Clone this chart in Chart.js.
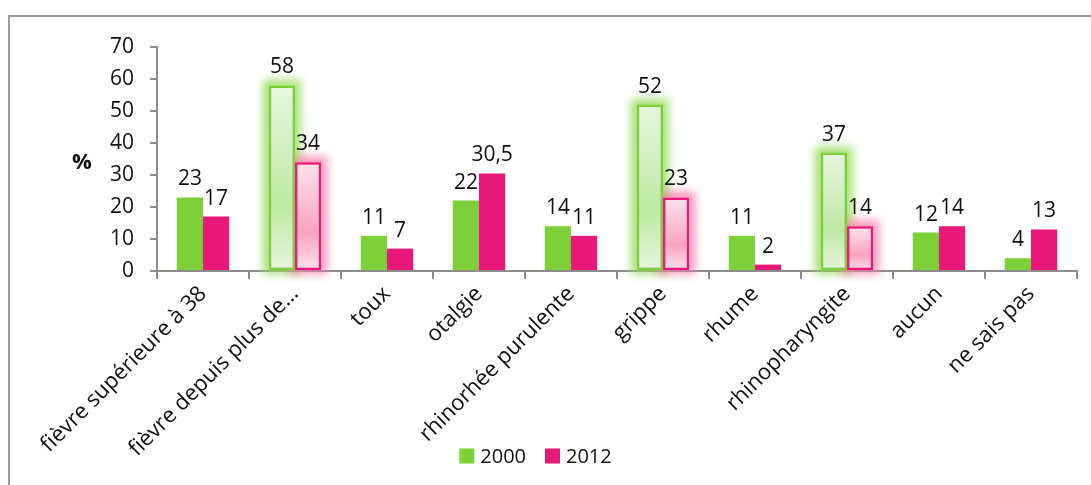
<!DOCTYPE html>
<html lang="fr">
<head>
<meta charset="utf-8">
<title>Symptômes — 2000 / 2012</title>
<script src="https://cdn.jsdelivr.net/npm/chart.js@4/dist/chart.umd.min.js"></script>
<style>
  html, body { margin: 0; padding: 0; background: #ffffff; overflow: hidden; }
  #frame {
    position: absolute; left: 8px; top: 15px;
    width: 1110px; height: 500px;
    border: 2px solid #9b9b9b;
    background: #ffffff;
  }
  #wrap { position: absolute; left: 0; top: 0; width: 1081px; height: 468px; }
</style>
</head>
<body>
<div id="frame"><div id="wrap"><canvas id="chart" width="1081" height="468"></canvas></div></div>
<script>
// Categories and the two survey years
const categories = [
  'fièvre supérieure à 38',
  'fièvre depuis plus de…',
  'toux',
  'otalgie',
  'rhinorhée purulente',
  'grippe',
  'rhume',
  'rhinopharyngite',
  'aucun',
  'ne sais pas'
];
const seriesNames = ['2000', '2012'];
const values2000 = [23, 58, 11, 22, 14, 52, 11, 37, 12, 4];
const values2012 = [17, 34, 7, 30.5, 11, 23, 2, 14, 14, 13];
// Categories drawn with the highlighted (glowing, gradient) style
const emphasised = ['fièvre depuis plus de…', 'grippe', 'rhinopharyngite'];
// Value axis
const yMin = 0, yMax = 70, yStep = 10;

const GREEN = '#7ed03a';
const PINK = '#e8177a';
const palette = {
  [GREEN]: { light: '#e8f6e0', mid: '#bde9a4', glow: 'rgba(150, 220, 90, 0.8)' },
  [PINK]:  { light: '#fde4ec', mid: '#f9a3bf', glow: 'rgba(245, 120, 170, 0.75)' }
};

const isEmph = i => emphasised.includes(categories[i]);

function fillFor(color) {
  return function (ctx) {
    const i = ctx.dataIndex;
    if (!isEmph(i)) return color;
    const chart = ctx.chart;
    const y = chart.scales.y;
    if (!y || !chart.chartArea) return palette[color].mid;
    const top = y.getPixelForValue(ctx.raw);
    const base = y.getPixelForValue(0);
    const g = chart.ctx.createLinearGradient(0, top, 0, base);
    g.addColorStop(0, palette[color].light);
    g.addColorStop(0.65, palette[color].mid);
    g.addColorStop(1, palette[color].light);
    return g;
  };
}

// Soft halo behind highlighted bars
const glowPlugin = {
  id: 'glow',
  beforeDatasetsDraw(chart) {
    const c = chart.ctx;
    chart.data.datasets.forEach((ds, di) => {
      const meta = chart.getDatasetMeta(di);
      const glow = palette[ds.baseColor].glow;
      meta.data.forEach((bar, i) => {
        if (!isEmph(i)) return;
        const p = bar.getProps(['x', 'y', 'base', 'width'], true);
        c.save();
        c.filter = 'blur(4px)';
        c.fillStyle = glow;
        c.fillRect(p.x - p.width / 2 - 6, p.y - 6, p.width + 12, p.base - p.y + 10);
        c.restore();
      });
    });
  }
};

// Value labels above each bar
const valueLabels = {
  id: 'valueLabels',
  afterDatasetsDraw(chart) {
    const c = chart.ctx;
    c.save();
    c.font = '21px "Open Sans", sans-serif';
    c.fillStyle = '#111111';
    c.textAlign = 'center';
    c.textBaseline = 'alphabetic';
    chart.data.datasets.forEach((ds, di) => {
      chart.getDatasetMeta(di).data.forEach((bar, i) => {
        const txt = String(ds.data[i]).replace('.', ',');
        c.fillText(txt, bar.x, bar.y - 12);
      });
    });
    c.restore();
  }
};

// "%" caption to the left of the value axis
const unitCaption = {
  id: 'unitCaption',
  afterDraw(chart) {
    const a = chart.chartArea;
    const c = chart.ctx;
    c.save();
    c.font = 'bold 22px "Open Sans", sans-serif';
    c.fillStyle = '#111111';
    c.textAlign = 'center';
    c.textBaseline = 'middle';
    c.fillText('%', a.left - 75, (a.top + a.bottom) / 2 + 4);
    c.restore();
  }
};

// Series key, laid out beside the lower ends of the slanted category labels
const seriesKey = {
  id: 'seriesKey',
  afterDraw(chart) {
    const c = chart.ctx;
    const box = 15, gap = 6, spacing = 19;
    c.save();
    c.font = '20px "Open Sans", sans-serif';
    c.textBaseline = 'middle';
    c.textAlign = 'left';
    const items = chart.data.datasets.map(ds => ({ text: ds.label, color: ds.baseColor, w: c.measureText(ds.label).width }));
    const total = items.reduce((s, it) => s + box + gap + it.w, 0) + spacing * (items.length - 1);
    let x = chart.chartArea.right / 2 - total / 2 - 8;
    const yMid = chart.chartArea.bottom + 185;
    items.forEach(it => {
      c.fillStyle = it.color;
      c.fillRect(x, yMid - box / 2, box, box);
      c.fillStyle = '#111111';
      c.fillText(it.text, x + box + gap, yMid + 1);
      x += box + gap + it.w + spacing;
    });
    c.restore();
  }
};

Chart.defaults.font.family = '"Open Sans", sans-serif';
Chart.defaults.color = '#111111';

function dataset(label, values, color) {
  return {
    label: label,
    data: values,
    baseColor: color,
    backgroundColor: fillFor(color),
    borderColor: color,
    borderWidth: values.map((v, i) => isEmph(i) ? 2.5 : 0),
    borderSkipped: false,
    categoryPercentage: 0.57,
    barPercentage: 1.0
  };
}

new Chart(document.getElementById('chart'), {
  type: 'bar',
  data: {
    labels: categories,
    datasets: [
      dataset(seriesNames[0], values2000, GREEN),
      dataset(seriesNames[1], values2012, PINK)
    ]
  },
  options: {
    responsive: false,
    animation: false,
    layout: { padding: { top: 30, left: 0, right: 14, bottom: 0 } },
    plugins: {
      tooltip: { enabled: false },
      legend: { display: false }
    },
    scales: {
      x: {
        grid: { display: true, drawOnChartArea: false, offset: true, tickLength: 8, color: '#8c8c8c', lineWidth: 2 },
        border: { color: '#8c8c8c', width: 2 },
        ticks: { minRotation: 45, maxRotation: 45, autoSkip: false, padding: 2, color: '#111111', font: { size: 22 } },
        afterFit(scale) { scale.height = 214; }
      },
      y: {
        min: yMin, max: yMax,
        grid: { display: true, drawOnChartArea: false, tickLength: 7, color: '#8c8c8c', lineWidth: 2 },
        border: { color: '#8c8c8c', width: 2 },
        ticks: { stepSize: yStep, padding: 16, color: '#111111', font: { size: 21 } },
        afterFit(scale) { scale.width = 147; }
      }
    }
  },
  plugins: [glowPlugin, valueLabels, unitCaption, seriesKey]
});
</script>
</body>
</html>
